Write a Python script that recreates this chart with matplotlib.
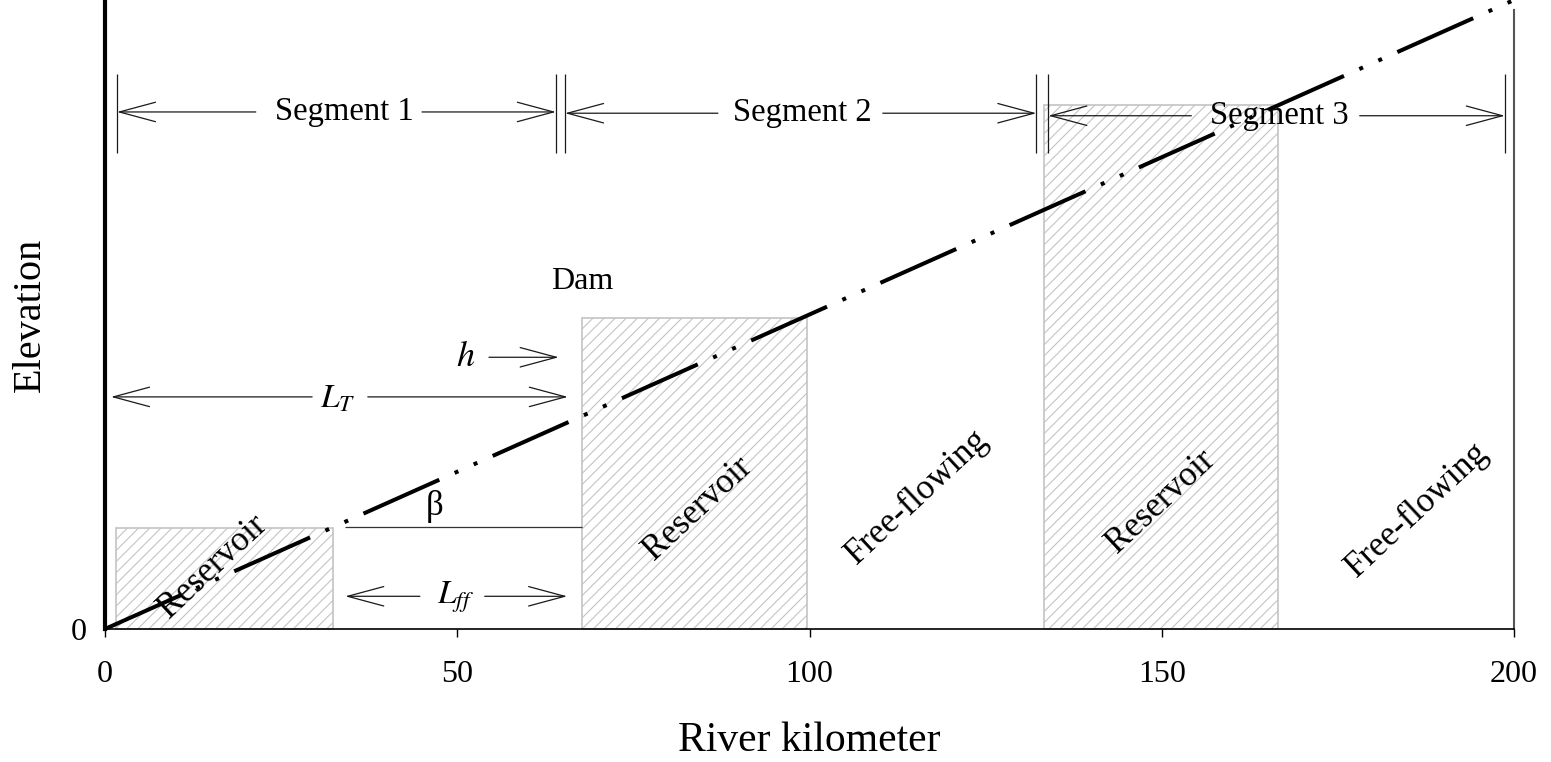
import matplotlib
matplotlib.use('Agg')
import matplotlib.pyplot as plt
from matplotlib.patches import Rectangle

plt.rcParams['font.family'] = ['Liberation Serif', 'DejaVu Serif']
plt.rcParams['mathtext.fontset'] = 'stix'
plt.rcParams['lines.scale_dashes'] = False
plt.rcParams['hatch.linewidth'] = 0.8

# river profile (km, elevation)
river_km = [0, 200]
river_elev = [0, 100]

# reservoirs: start km, end km, water surface elevation
res_start = [1.5, 67.7, 133.3]
res_end = [32.4, 99.6, 166.5]
res_top = [16.0, 49.4, 83.3]

# segment dimension lines
seg_names = ['Segment 1', 'Segment 2', 'Segment 3']
seg_left = [1.7, 65.3, 133.9]
seg_right = [64.0, 132.2, 198.7]
seg_text_x = [34.0, 99.0, 166.7]
seg_gap_l = [21.4, 87.0, 154.2]
seg_gap_r = [45.0, 110.4, 178.1]
seg_y = [82.2, 82.0, 81.6]

# rotated reach labels
reach_labels = ['Reservoir', 'Reservoir', 'Free-flowing', 'Reservoir', 'Free-flowing']
reach_x = [15.3, 84.2, 115.3, 149.8, 186.3]
reach_y = [9.9, 19.1, 21.0, 20.2, 18.9]

xticks = [0, 50, 100, 150, 200]

fig = plt.figure(figsize=(15.51, 7.62), dpi=100)
ax = fig.add_axes([105 / 1551, 1 - 629 / 762, 1409 / 1551, 629 / 762])
ax.set_xlim(0, 200)
ax.set_ylim(0, 100)

for x0, x1, top in zip(res_start, res_end, res_top):
    ax.add_patch(Rectangle((x0, 0), x1 - x0, top, facecolor='none',
                           edgecolor='#c4c4c4', hatch='///', lw=1.2,
                           clip_on=False, zorder=1))

ax.plot(river_km, river_elev, color='k', lw=2.9,
        dashes=(59.8, 12.1, 2.9, 12.1, 2.9, 12.1), clip_on=False, zorder=3)


def arrow(x_from, x_to, y):
    ax.annotate('', xy=(x_to, y), xytext=(x_from, y),
                arrowprops=dict(arrowstyle='->, head_length=26, head_width=7',
                                mutation_scale=1, lw=0.9, color='#1a1a1a',
                                shrinkA=0, shrinkB=0),
                annotation_clip=False, zorder=4)


for name, xl, xr, xt, gl, gr, y in zip(seg_names, seg_left, seg_right, seg_text_x,
                                       seg_gap_l, seg_gap_r, seg_y):
    arrow(gl, xl, y)
    arrow(gr, xr, y)
    ax.vlines([xl, xr], 75.6, 88.2, color='#1a1a1a', lw=0.9, zorder=4)
    ax.text(xt, y, name, fontsize=23.5, ha='center', va='center', zorder=5)

for lab, x, y in zip(reach_labels, reach_x, reach_y):
    ax.text(x, y, lab, fontsize=25, rotation=43, rotation_mode='anchor',
            ha='center', va='center', zorder=5)

# dam height, lengths and slope annotations
ax.text(67.8, 55.2, 'Dam', fontsize=23, ha='center', va='center')
ax.text(51.2, 43.2, '$h$', fontsize=26, ha='center', va='center')
arrow(54.5, 64.4, 43.2)

arrow(29.4, 0.85, 36.9)
arrow(37.3, 65.7, 36.9)
ax.text(33.1, 36.5, '$L_T$', fontsize=24, ha='center', va='center')

arrow(44.7, 34.1, 5.2)
arrow(53.9, 65.6, 5.2)
ax.text(49.7, 5.0, '$L_{ff}$', fontsize=24, ha='center', va='center')

ax.hlines(16.2, 34.1, 67.7, color='#333333', lw=0.9)
ax.text(46.8, 19.4, 'β', fontsize=25, ha='center', va='center')

ax.spines['top'].set_visible(False)
ax.spines['left'].set_linewidth(3.0)
ax.spines['left'].set_bounds(0, 101)
ax.spines['bottom'].set_linewidth(1.2)
ax.spines['right'].set_linewidth(1.5)
ax.spines['right'].set_color('#555555')
ax.spines['right'].set_bounds(0, 98.4)

ax.set_xticks(xticks)
ax.set_yticks([0])
ax.tick_params(axis='x', direction='out', length=6, width=1, labelsize=23, pad=16)
ax.tick_params(axis='y', length=0, labelsize=23, pad=13)

ax.set_xlabel('River kilometer', fontsize=30, labelpad=24)
ax.set_ylabel('Elevation', fontsize=29, labelpad=16)

fig.savefig('out.png', dpi=100)
